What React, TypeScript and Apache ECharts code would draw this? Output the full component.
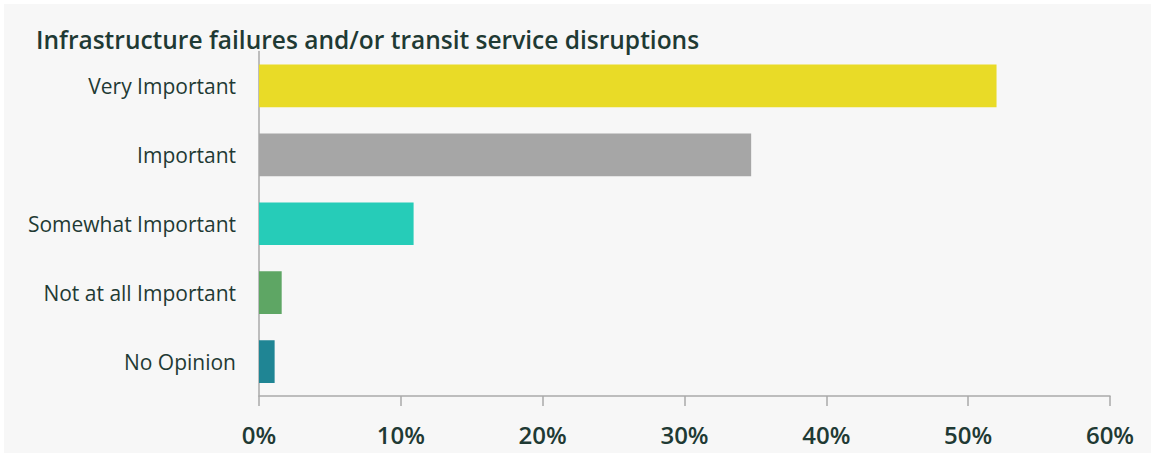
import React, { useEffect, useRef } from "react";
import * as echarts from "echarts";

const categories = ["Very Important", "Important", "Somewhat Important", "Not at all Important", "No Opinion"];
const values = [52.0, 34.7, 10.9, 1.6, 1.1];
const barColors = ["#e9db27", "#a6a6a6", "#26ccb8", "#5ea664", "#1f8594"];
const titleText = "Infrastructure failures and/or transit service disruptions";
const xTicks = { min: 0, max: 60, interval: 10 };

export default function App() {
  const ref = useRef<HTMLDivElement>(null);
  useEffect(() => {
    document.body.style.margin = "0";
    const chart = echarts.init(ref.current!, null, { renderer: "svg" });
    chart.setOption({
      animation: false,
      backgroundColor: "#f7f7f7",
      textStyle: { fontFamily: "'Open Sans', sans-serif" },
      title: {
        text: titleText,
        left: 32,
        top: 23,
        padding: 0,
        textStyle: { fontSize: 24.5, fontWeight: 600, color: "#1f3a34", fontFamily: "'Open Sans', sans-serif" },
      },
      grid: { left: 255, right: 41, top: 47.5, bottom: 57, containLabel: false },
      xAxis: {
        type: "value",
        min: xTicks.min,
        max: xTicks.max,
        interval: xTicks.interval,
        axisLine: { show: true, lineStyle: { color: "#aaaaaa", width: 1.5 } },
        axisTick: { show: true, length: 10, lineStyle: { color: "#aaaaaa", width: 1.5 } },
        splitLine: { show: false },
        axisLabel: {
          formatter: "{value}%",
          fontSize: 24,
          fontWeight: 600,
          color: "#1f3a34",
          margin: 26,
        },
      },
      yAxis: {
        type: "category",
        inverse: true,
        data: categories,
        axisLine: { show: true, lineStyle: { color: "#aaaaaa", width: 1.5 } },
        axisTick: { show: false },
        axisLabel: { fontSize: 21, color: "#1f3a34", margin: 23 },
      },
      series: [
        {
          type: "bar",
          data: values.map((v, i) => ({ value: v, itemStyle: { color: barColors[i] } })),
          barWidth: "62%",
        },
      ],
    });
    return () => chart.dispose();
  }, []);
  return (
    <div style={{ width: 1151, height: 453, background: "#ffffff", position: "relative" }}>
      <div ref={ref} style={{ position: "absolute", left: 4, top: 4, width: 1147, height: 449 }} />
    </div>
  );
}
